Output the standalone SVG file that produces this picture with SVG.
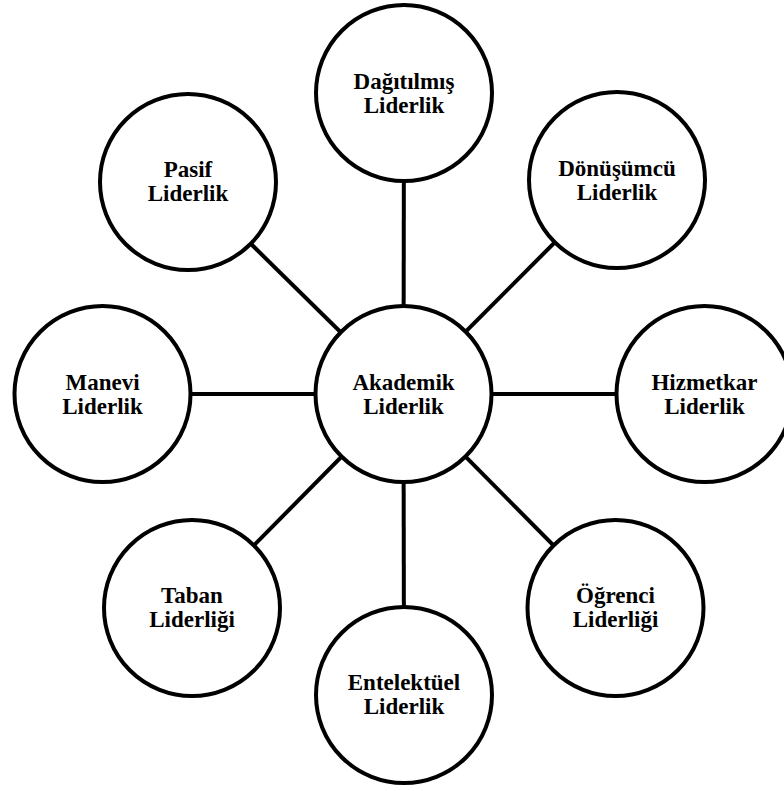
<svg xmlns="http://www.w3.org/2000/svg" width="784" height="791" viewBox="0 0 784 791">
<style>
.node circle{fill:#fff;stroke:#000;stroke-width:4}
.node text{font-family:'Liberation Serif','Times New Roman','DejaVu Serif',serif;font-weight:bold;font-size:23px;fill:#000;text-anchor:middle}
#connectors line{stroke:#000;stroke-width:4}
</style>
<rect width="784" height="791" fill="#fff"/>
<g id="connectors">
<line x1="403.5" y1="394" x2="404" y2="93"/>
<line x1="403.5" y1="394" x2="404" y2="695"/>
<line x1="403.5" y1="394" x2="102.5" y2="394"/>
<line x1="403.5" y1="394" x2="704.5" y2="394"/>
<line x1="403.5" y1="394" x2="188" y2="182"/>
<line x1="403.5" y1="394" x2="617" y2="180"/>
<line x1="403.5" y1="394" x2="192" y2="608"/>
<line x1="403.5" y1="394" x2="615.5" y2="608"/>
</g>
<g font-family="Liberation Serif, serif">
<g id="akademik" class="node"><circle cx="403.5" cy="394" r="88"/><text x="403.5" y="390">Akademik</text><text x="403.5" y="414">Liderlik</text></g>
<g id="dagitilmis" class="node"><circle cx="404" cy="93" r="88"/><text x="404" y="89">Dağıtılmış</text><text x="404" y="113">Liderlik</text></g>
<g id="donusumcu" class="node"><circle cx="617" cy="180" r="88"/><text x="617" y="176">Dönüşümcü</text><text x="617" y="200">Liderlik</text></g>
<g id="hizmetkar" class="node"><circle cx="704.5" cy="394" r="88"/><text x="704.5" y="390">Hizmetkar</text><text x="704.5" y="414">Liderlik</text></g>
<g id="ogrenci" class="node"><circle cx="615.5" cy="608" r="88"/><text x="615.5" y="603">Öğrenci</text><text x="615.5" y="627">Liderliği</text></g>
<g id="entelektuel" class="node"><circle cx="404" cy="695" r="88"/><text x="404" y="690">Entelektüel</text><text x="404" y="714">Liderlik</text></g>
<g id="taban" class="node"><circle cx="192" cy="608" r="88"/><text x="192" y="603">Taban</text><text x="192" y="627">Liderliği</text></g>
<g id="manevi" class="node"><circle cx="102.5" cy="394" r="88"/><text x="102.5" y="390">Manevi</text><text x="102.5" y="414">Liderlik</text></g>
<g id="pasif" class="node"><circle cx="188" cy="182" r="88"/><text x="188" y="177">Pasif</text><text x="188" y="201">Liderlik</text></g>
</g>
</svg>
